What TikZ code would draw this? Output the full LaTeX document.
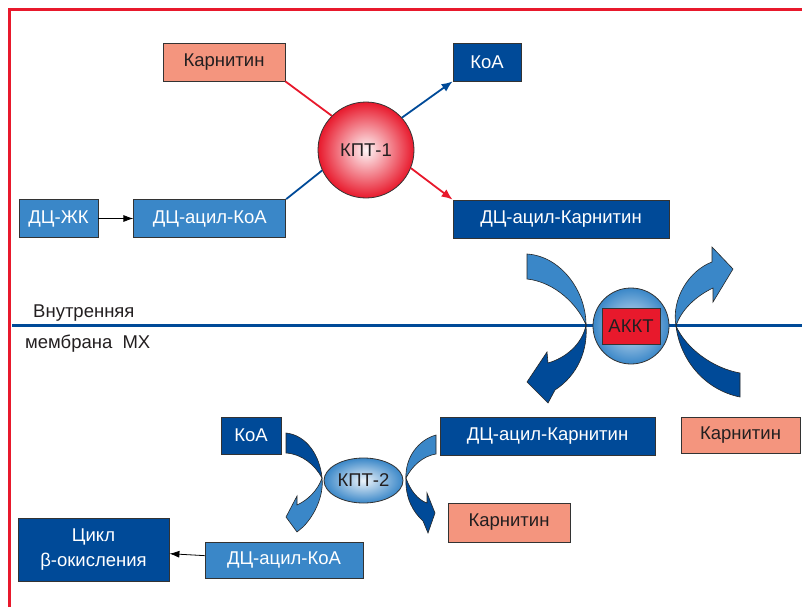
\documentclass[tikz,border=0pt]{standalone}
\usepackage{fontspec}
\setmainfont{Liberation Sans}
\usetikzlibrary{arrows.meta,shapes.geometric,positioning}

\definecolor{dblue}{RGB}{0,74,152}
\definecolor{mblue}{RGB}{58,135,200}
\definecolor{salmon}{RGB}{244,149,126}
\definecolor{kred}{RGB}{232,25,44}
\definecolor{tdark}{RGB}{35,31,32}

\begin{document}
\begin{tikzpicture}[x=1pt,y=-1pt,
	every node/.style={font=\fontsize{18.5}{25}\selectfont, inner sep=0pt},
	box/.style={draw=black!80, line width=0.8pt, minimum height=38pt, text=white},
	darkbox/.style={box, fill=dblue},
	midbox/.style={box, fill=mblue},
	pinkbox/.style={box, fill=salmon, text=tdark},
	band/.style={draw=black!85, line width=0.6pt},
	lightband/.style={band, fill=mblue},
	darkband/.style={band, fill=dblue},
	thintip/.style={-{Latex[length=10pt,width=7pt]}, line width=0.8pt},
	fattip/.style={-{Latex[length=11pt,width=9pt]}, line width=1.8pt}]
	\useasboundingbox (0,0) rectangle (802,607);
	% Define line width of the frame
	\def \framew {3}
	% Draw frame and membrane
	\draw[kred, line width=\framew pt] (9.5,607) -- (9.5,9.5) -- (802,9.5);
	\draw[dblue, line width=3pt] (12,325) -- (802,325);
	\node[anchor=base west, text=tdark] (memb1) at (33,317) {Внутренняя};
	\node[anchor=base west, text=tdark] (memb2) at (25,348) {мембрана\hspace{0.55em}МХ};
	% Draw nodes outside
	\node[pinkbox, minimum width=122pt] (carn1) at (224,62) {Карнитин};
	\node[darkbox, minimum width=68pt] (koa1) at (487,62) {КоА};
	\node[circle, draw=black!80, line width=0.8pt, minimum size=96pt,
		inner color=kred!4, outer color=kred, text=tdark] (kpt1) at (366,150) {КПТ-1};
	\node[midbox, minimum width=79pt] (dczk) at (58.5,218.5) {ДЦ-ЖК};
	\node[midbox, minimum width=152pt, right=35pt of dczk] (acoa1) {ДЦ-ацил-КоА};
	\node[darkbox, minimum width=216pt] (acar1) at (561,219) {ДЦ-ацил-Карнитин};
	% Draw links of KPT-1
	\draw[thintip] (dczk) -- (acoa1);
	\draw[kred, line width=1.8pt] (carn1.south east) -- (kpt1.135);
	\draw[dblue, line width=1.8pt] (acoa1.north east) -- (kpt1.205);
	\draw[dblue, fattip] (kpt1.42) -- (koa1.south west);
	\draw[kred, fattip] (kpt1.338) -- (acar1.north west);
	% Draw transporter
	\node[circle, draw=black!80, line width=0.8pt, minimum size=76pt,
		inner color=mblue!20, outer color=mblue] (akktc) at (631,326) {};
	\node[draw=black!80, line width=0.8pt, fill=kred, text=tdark,
		minimum width=58pt, minimum height=36pt] (akkt) at (akktc) {АККТ};
	% Draw bands around transporter
	\filldraw[lightband] (527,254) .. controls (560,256) and (586,290) .. (586,325)
		.. controls (578,305) and (555,282) .. (527,279) -- cycle;
	\filldraw[darkband] (586,325) .. controls (588,350) and (578,375) .. (555,390)
		-- (548,403) -- (527,382) -- (547,352) -- (548,363)
		.. controls (565,358) and (582,345) .. cycle;
	\filldraw[lightband] (676,326) .. controls (671,298) and (690,270) .. (712,262)
		-- (712,247) -- (733,269) -- (713,302) -- (713,288)
		.. controls (696,296) and (681,310) .. cycle;
	\filldraw[darkband] (676,326) .. controls (680,360) and (705,390) .. (740,397)
		-- (740,373) .. controls (712,368) and (686,348) .. cycle;
	% Draw nodes inside
	\node[darkbox, minimum width=60pt, minimum height=37pt] (koa2) at (251,435.5) {КоА};
	\node[darkbox, minimum width=215pt] (acar2) at (547.5,436) {ДЦ-ацил-Карнитин};
	\node[pinkbox, minimum width=119pt, minimum height=36pt] (carn2) at (740.5,435) {Карнитин};
	\node[ellipse, draw=black!80, line width=0.8pt, minimum width=79pt, minimum height=45pt,
		inner color=mblue!10, outer color=mblue, text=tdark] (kpt2) at (363.5,480.5) {КПТ-2};
	\node[pinkbox, minimum width=122pt, minimum height=39pt] (carn3) at (509,522.5) {Карнитин};
	\node[midbox, minimum width=158pt, minimum height=36pt] (acoa2) at (284,560) {ДЦ-ацил-КоА};
	\node[darkbox, minimum width=151pt, minimum height=63pt, align=center] (cyc) at (93.5,549.5)
		{Цикл\\β-окисления};
	\draw[thintip] (acoa2) -- (cyc);
	% Draw bands around KPT-2
	\filldraw[darkband] (286,433) .. controls (306,435) and (320,455) .. (322,478)
		.. controls (315,465) and (302,454) .. (286,453) -- cycle;
	\filldraw[lightband] (322,478) .. controls (324,495) and (315,515) .. (303,527)
		-- (297,532) -- (286,517) -- (297,496) -- (297,505)
		.. controls (308,500) and (318,490) .. cycle;
	\filldraw[lightband] (436,435) .. controls (418,440) and (405,458) .. (406,478)
		.. controls (412,466) and (423,456) .. (436,454) -- cycle;
	\filldraw[darkband] (406,478) .. controls (405,498) and (413,512) .. (423,521)
		-- (428,533) -- (435,513) -- (427,493) -- (427,503)
		.. controls (418,500) and (410,490) .. cycle;
\end{tikzpicture}
\end{document}
